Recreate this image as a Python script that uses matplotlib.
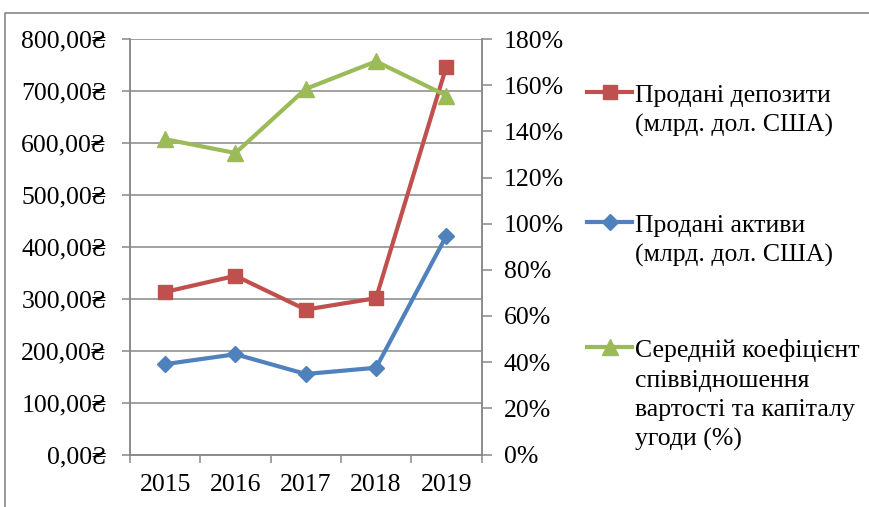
import numpy as np
import matplotlib
matplotlib.use('Agg')
import matplotlib.pyplot as plt
from matplotlib.lines import Line2D
from matplotlib.ticker import FuncFormatter, MultipleLocator, FixedLocator

plt.rcParams['font.family'] = ['Liberation Serif', 'DejaVu Serif']

# data
years = ['2015', '2016', '2017', '2018', '2019']
deposits = [313, 344, 279, 301, 747]          # млрд. дол. США
assets = [174, 193, 155, 167, 421]            # млрд. дол. США
ratio = [1.366, 1.306, 1.584, 1.703, 1.555]   # частка

labels = ['Продані депозити\n(млрд. дол. США)',
          'Продані активи\n(млрд. дол. США)',
          'Середній коефіцієнт\nспіввідношення\nвартості та капіталу\nугоди (%)']

# styles
red, blue, green = '#C0504D', '#4F81BD', '#9BBB59'
gray = '#888888'
W, H = 870, 507
fs = 18.5

fig = plt.figure(figsize=(W / 100, H / 100), dpi=100)
ax = fig.add_axes([130 / W, 1 - 454.5 / H, 351.5 / W, 415.5 / H])
ax2 = ax.twinx()

x = np.arange(len(years))
ax.plot(x, deposits, color=red, lw=3, marker='s', ms=10, mec=red, zorder=3)
ax.plot(x, assets, color=blue, lw=3, marker='D', ms=8.5, mec=blue, zorder=3)
ax2.plot(x, ratio, color=green, lw=3, marker='^', ms=12, mec=green, zorder=3)

# primary axis
ax.set_xlim(-0.5, len(years) - 0.5)
ax.set_ylim(0, 800)
ax.yaxis.set_major_locator(MultipleLocator(100))
ax.yaxis.set_major_formatter(FuncFormatter(lambda v, p: f'{v:.2f}'.replace('.', ',') + '₴'))
ax.grid(axis='y', color=gray, lw=1.1)
ax.set_axisbelow(True)

ax.xaxis.set_major_locator(FixedLocator(x))
ax.set_xticklabels(years)
ax.xaxis.set_minor_locator(FixedLocator(np.arange(len(years) + 1) - 0.5))
ax.tick_params(axis='x', which='major', length=0, pad=14, labelsize=fs)
ax.tick_params(axis='x', which='minor', length=6, width=1.1, color=gray, direction='out')
ax.tick_params(axis='y', length=6, width=1.1, color=gray, direction='out', pad=11, labelsize=fs)

# secondary axis
ax2.set_ylim(0, 1.8)
ax2.yaxis.set_major_locator(MultipleLocator(0.2))
ax2.yaxis.set_major_formatter(FuncFormatter(lambda v, p: f'{v * 100:.0f}%'))
ax2.tick_params(axis='y', length=7, width=1.1, color=gray, direction='out', pad=9, labelsize=fs)

for a in (ax, ax2):
    a.spines['top'].set_visible(False)
    for s in ('left', 'right', 'bottom'):
        a.spines[s].set_color(gray)
        a.spines[s].set_linewidth(1.1)

# legend drawn Excel-style: key beside the first line of each label
entries = [(red, 's', 10, labels[0], 102),
           (blue, 'D', 8.5, labels[1], 232),
           (green, '^', 12, labels[2], 357)]
for color, mk, ms, text, base in entries:
    ky = 1 - (base - 10) / H
    fig.add_artist(Line2D([587 / W, 632 / W], [ky, ky], color=color, lw=3,
                          transform=fig.transFigure))
    fig.add_artist(Line2D([609.5 / W], [ky], color=color, marker=mk, ms=ms,
                          mec=color, transform=fig.transFigure))
    for i, line in enumerate(text.split('\n')):
        fig.text(635 / W, 1 - (base + i * 29.5) / H, line, fontsize=fs, va='baseline')

# outer frame of the chart area
fig.add_artist(Line2D([5 / W, 5 / W, 1], [0, 1 - 13 / H, 1 - 13 / H], color=gray, lw=1.2,
                      transform=fig.transFigure))

fig.savefig('out.png', dpi=100)
